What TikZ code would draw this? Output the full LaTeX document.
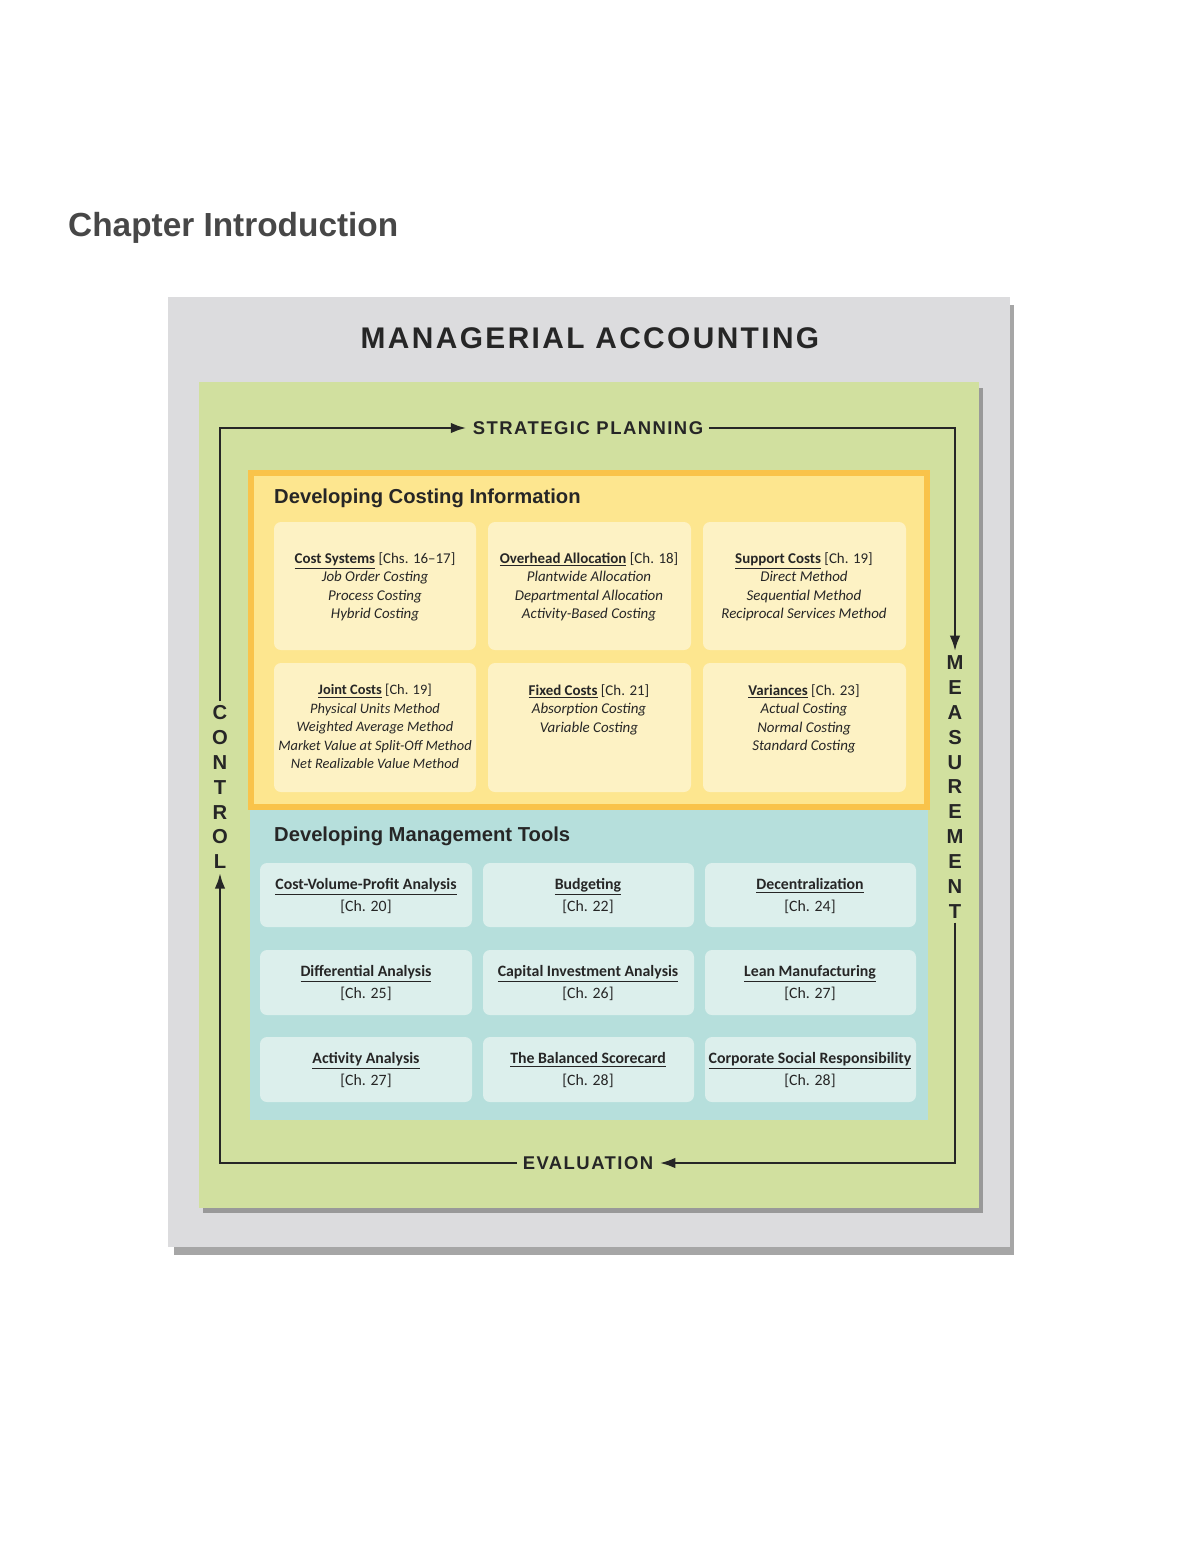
\documentclass[tikz,border=0pt]{standalone}
\usepackage{fontspec}
\setmainfont{Carlito}
\newfontfamily\headfont{Liberation Sans}
\usetikzlibrary{arrows.meta}
\definecolor{frame}{HTML}{DCDCDE}
\definecolor{greenbg}{HTML}{D1E09F}
\definecolor{yellowbg}{HTML}{FDE68F}
\definecolor{yellowrim}{HTML}{F9C34A}
\definecolor{yellowbox}{HTML}{FDF2C4}
\definecolor{bluebg}{HTML}{B6DFDC}
\definecolor{bluebox}{HTML}{DCEFEC}
\definecolor{ink}{HTML}{262626}
\newcommand{\ul}[1]{\underline{\textbf{#1}}}
\newcommand{\spaced}[1]{{\headfont\bfseries\addfontfeature{LetterSpace=8}#1}}

\begin{document}
\begin{tikzpicture}[x=0.02cm,y=-0.02cm,
	costbox/.style={fill=yellowbox,rounded corners=4pt,draw=none},
	toolbox/.style={fill=bluebox,rounded corners=4pt,draw=none},
	boxtext/.style={anchor=north,align=center,text=ink,font=\fontsize{8.5}{10.5}\selectfont,inner sep=0pt},
	looptext/.style={text=ink,font=\fontsize{10.5}{12}\selectfont},
	lettertext/.style={text=ink,align=center,inner sep=2pt,font=\headfont\bfseries\fontsize{11.5}{14.2}\selectfont},
	loop/.style={line width=1.6pt,ink},
	tip/.style={-{Latex[length=9pt,width=6pt]}},
	]
	\useasboundingbox (0,0) rectangle (1200,1553);
	\node[anchor=west,text=ink!85,font=\headfont\fontsize{19}{22}\selectfont\bfseries] (chap) at (62,228) {Chapter Introduction};

	% frame with shadow
	\fill[black!35] (174,305) rectangle (1014,1255);
	\fill[frame] (168,297) rectangle (1010,1247);
	\node[text=ink,font=\fontsize{17}{20}\selectfont] (title) at (590,338) {\spaced{MANAGERIAL ACCOUNTING}};
	\fill[black!40] (203,388) rectangle (983,1213);
	\fill[greenbg] (199,382) rectangle (979,1208);

	% loop around the boxes
	\node[looptext] (plan) at (588,428) {\spaced{STRATEGIC PLANNING}};
	\node[looptext] (eval) at (588,1163) {\spaced{EVALUATION}};
	\node[lettertext] (meas) at (955,787) {M\\E\\A\\S\\U\\R\\E\\M\\E\\N\\T};
	\node[lettertext] (ctrl) at (220,787) {C\\O\\N\\T\\R\\O\\L};
	\coordinate (tl) at (220,428);
	\coordinate (tr) at (955,428);
	\coordinate (br) at (955,1163);
	\coordinate (bl) at (220,1163);
	\draw[loop,tip] (ctrl.north) -- (tl) -- (plan.west);
	\draw[loop,tip] (plan.east) -- (tr) -- (meas.north);
	\draw[loop,tip] (meas.south) -- (br) -- (eval.east);
	\draw[loop,tip] (eval.west) -- (bl) -- (ctrl.south);

	% costing information
	\draw[yellowrim,line width=3pt,fill=yellowbg] (251,473) rectangle (927,807);
	\node[anchor=west,text=ink,font=\headfont\bfseries\fontsize{11.5}{14}\selectfont] (costhead) at (268,498) {Developing Costing Information};
	\path[costbox] (274,522) rectangle (476,650);
	\path[costbox] (488,522) rectangle (691,650);
	\path[costbox] (703,522) rectangle (906,650);
	\path[costbox] (274,663) rectangle (476,792);
	\path[costbox] (488,663) rectangle (691,792);
	\path[costbox] (703,663) rectangle (906,792);
	\node[boxtext] (cost) at (375,552) {\ul{Cost Systems} [Chs. 16--17]\\\itshape Job Order Costing\\\itshape Process Costing\\\itshape Hybrid Costing};
	\node[boxtext] (over) at (589,552) {\ul{Overhead Allocation} [Ch. 18]\\\itshape Plantwide Allocation\\\itshape Departmental Allocation\\\itshape Activity-Based Costing};
	\node[boxtext] (supp) at (804,552) {\ul{Support Costs} [Ch. 19]\\\itshape Direct Method\\\itshape Sequential Method\\\itshape Reciprocal Services Method};
	\node[boxtext,font=\fontsize{8.2}{10.5}\selectfont] (joint) at (375,684) {\ul{Joint Costs} [Ch. 19]\\\itshape Physical Units Method\\\itshape Weighted Average Method\\\itshape Market Value at Split-Off Method\\\itshape Net Realizable Value Method};
	\node[boxtext] (fixed) at (589,684) {\ul{Fixed Costs} [Ch. 21]\\\itshape Absorption Costing\\\itshape Variable Costing};
	\node[boxtext] (vari) at (804,684) {\ul{Variances} [Ch. 23]\\\itshape Actual Costing\\\itshape Normal Costing\\\itshape Standard Costing};

	% management tools
	\fill[bluebg] (250,810) rectangle (928,1120);
	\node[anchor=west,text=ink,font=\headfont\bfseries\fontsize{11.5}{14}\selectfont] (toolhead) at (268,836) {Developing Management Tools};
	\foreach \x/\w in {260/472,483/694,705/916}
		\foreach \y/\h in {863/927,950/1015,1037/1102}
			\path[toolbox] (\x,\y) rectangle (\w,\h);
	\tikzset{tooltext/.style={align=center,text=ink,font=\fontsize{9}{12.5}\selectfont}}
	\node[tooltext] (cvp) at (366,896) {\ul{Cost-Volume-Profit Analysis}\\{}[Ch. 20]};
	\node[tooltext] (budg) at (588,896) {\ul{Budgeting}\\{}[Ch. 22]};
	\node[tooltext] (dec) at (810,896) {\ul{Decentralization}\\{}[Ch. 24]};
	\node[tooltext] (diff) at (366,983) {\ul{Differential Analysis}\\{}[Ch. 25]};
	\node[tooltext] (cap) at (588,983) {\ul{Capital Investment Analysis}\\{}[Ch. 26]};
	\node[tooltext] (lean) at (810,983) {\ul{Lean Manufacturing}\\{}[Ch. 27]};
	\node[tooltext] (act) at (366,1070) {\ul{Activity Analysis}\\{}[Ch. 27]};
	\node[tooltext] (bsc) at (588,1070) {\ul{The Balanced Scorecard}\\{}[Ch. 28]};
	\node[tooltext] (csr) at (810,1070) {\ul{Corporate Social Responsibility}\\{}[Ch. 28]};
\end{tikzpicture}
\end{document}
